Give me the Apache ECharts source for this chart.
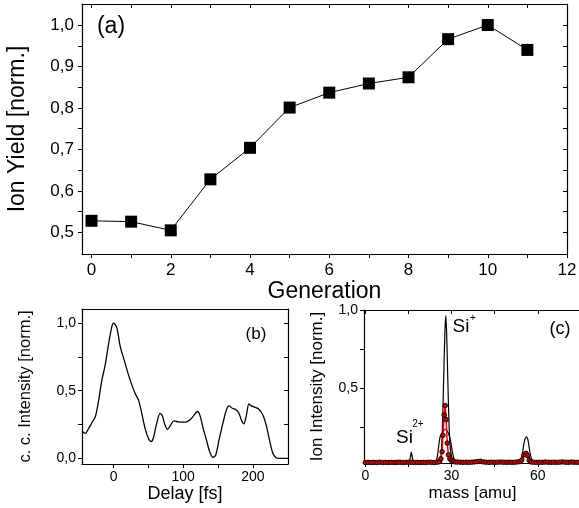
<!DOCTYPE html>
<html lang="en">
<head>
<meta charset="UTF-8">
<title>Ion yield vs generation</title>
<script src="https://cdn.jsdelivr.net/npm/echarts@6/dist/echarts.min.js"></script>
<style>
  html, body { margin: 0; padding: 0; background: #fff; }
  #main { width: 579px; height: 508px; }
</style>
</head>
<body>
<div id="main"></div>
<script>
// (a) ion yield per generation
var generation = [0, 1, 2, 3, 4, 5, 6, 7, 8, 9, 10, 11];
var ionYield = [0.528, 0.526, 0.505, 0.628, 0.704, 0.801, 0.837, 0.859, 0.874, 0.966, 1.0, 0.94];
var genTicks = [0, 1, 2, 3, 4, 5, 6, 7, 8, 9, 10, 11, 12];
var genLabels = [0, 2, 4, 6, 8, 10, 12];
var yieldTicks = [0.5, 0.55, 0.6, 0.65, 0.7, 0.75, 0.8, 0.85, 0.9, 0.95, 1.0];
var yieldLabels = [0.5, 0.6, 0.7, 0.8, 0.9, 1.0];

// (b) cross-correlation trace
var delay = [-45, -40.5, -35.7, -31, -26, -21.4, -16.7, -12, -7, -2.4, 0, 4.8, 9.5, 15.2, 21.4,
  26.2, 31, 35.7, 40.5, 45.2, 50, 53.8, 57, 62, 66.7, 70, 73.8, 77.6, 82, 86.7,
  92.9, 102.4, 112, 116.7, 120.5, 123.8, 128.6, 133.3, 138, 142.9, 146.7, 151.4, 157, 162, 165.7,
  170.5, 176.2, 180, 183.8, 187, 190.5, 194.3, 197.6, 202.4, 208.6, 214.3, 219, 223.8, 228.6, 233.3,
  238, 250];
var ccIntensity = [0.198, 0.185, 0.222, 0.264, 0.31, 0.43, 0.58, 0.69, 0.85, 0.975, 1.0, 0.963, 0.827, 0.728, 0.617,
  0.543, 0.48, 0.432, 0.333, 0.222, 0.148, 0.123, 0.148, 0.26, 0.333, 0.314, 0.247, 0.215, 0.247, 0.277,
  0.269, 0.267, 0.296, 0.328, 0.346, 0.321, 0.222, 0.136, 0.049, 0.007, 0.025, 0.136, 0.26, 0.358, 0.388,
  0.37, 0.358, 0.333, 0.279, 0.254, 0.314, 0.402, 0.388, 0.378, 0.363, 0.321, 0.247, 0.136, 0.037, 0.005,
  0, 0];
var delayTicks = [0, 50, 100, 150, 200];
var delayLabels = [0, 100, 200];
var ccTicks = [0, 0.25, 0.5, 0.75, 1.0];
var ccLabels = [0, 0.5, 1.0];

// (c) mass spectra
var tallMass = [-0.4, 6, 12, 14.9, 15.5, 16, 16.5, 17.1, 22, 25.8, 26.4, 26.9, 27.3, 27.7, 28,
  28.3, 28.7, 29.1, 29.6, 30.2, 31, 33, 40, 47, 53.6, 54.5, 55.1, 55.6, 56, 56.5,
  57, 57.6, 58.4, 64, 70, 75];
var tallInt = [0.028, 0.028, 0.028, 0.028, 0.045, 0.092, 0.045, 0.028, 0.028, 0.035, 0.08, 0.3, 0.6, 0.87, 0.965,
  0.84, 0.55, 0.28, 0.11, 0.05, 0.034, 0.03, 0.034, 0.03, 0.03, 0.07, 0.14, 0.18, 0.19, 0.175,
  0.12, 0.06, 0.032, 0.028, 0.028, 0.028];
var broadMass = [-0.4, 10, 20, 24.3, 25, 25.5, 26, 26.6, 27.3, 28, 28.7, 29.3, 29.7, 30.3, 31,
  32, 40, 50, 53.8, 54.6, 55.3, 55.9, 56.5, 57.2, 58.2, 66, 75];
var broadInt = [0.026, 0.026, 0.026, 0.03, 0.06, 0.13, 0.19, 0.21, 0.23, 0.24, 0.22, 0.19, 0.16, 0.09, 0.045,
  0.03, 0.028, 0.028, 0.03, 0.05, 0.075, 0.088, 0.075, 0.05, 0.03, 0.026, 0.026];
var redMass = [0, 1, 2, 3, 4, 5, 6, 7, 8, 9, 10, 11, 12, 13, 14, 15, 16, 17, 18, 19, 20, 21, 22, 23, 24, 25,
  25.8, 26.3, 26.7, 27.0, 27.4, 27.8, 28.1, 28.5, 28.9, 29.4, 29.9, 30.5, 31.2,
  32, 33, 34, 35, 36, 37, 38, 39, 40, 41, 42, 43, 44, 45, 46, 47, 48, 49, 50, 51, 52, 53,
  53.8, 54.4, 55.2, 55.9, 56.4, 57, 57.7,
  58.5, 59.5, 60.5, 61.5, 62.5, 63.5, 64.5, 65.5, 66.5, 67.5, 68.5, 69.5, 70.5, 71.5, 72.5, 73.5, 74.5];
var redInt = [0.026, 0.027, 0.026, 0.027, 0.026, 0.028, 0.026, 0.027, 0.026, 0.027, 0.026, 0.027, 0.028,
  0.026, 0.027, 0.028, 0.027, 0.026, 0.027, 0.026, 0.027, 0.026, 0.028, 0.027, 0.026, 0.028,
  0.032, 0.05, 0.095, 0.2, 0.33, 0.39, 0.3, 0.15, 0.075, 0.05, 0.04, 0.035, 0.03,
  0.029, 0.028, 0.027, 0.028, 0.027, 0.028, 0.03, 0.032, 0.034, 0.03, 0.028, 0.027, 0.028, 0.027, 0.028,
  0.029, 0.028, 0.027, 0.028, 0.027, 0.028, 0.03,
  0.032, 0.042, 0.075, 0.085, 0.07, 0.04, 0.03,
  0.028, 0.027, 0.028, 0.027, 0.029, 0.028, 0.027, 0.028, 0.027, 0.028, 0.03, 0.028, 0.027, 0.029,
  0.028, 0.027, 0.028];
var massTicks = [0, 15, 30, 45, 60, 75];
var massLabels = [0, 30, 60];
var specTicks = [0.25, 0.5, 0.75, 1.0];
var specLabels = [0.5, 1.0];

var FONT = 'Liberation Sans, Arial, sans-serif';

function comma(v) {
  return v.toFixed(1).replace('.', ',');
}

function pairs(xs, ys) {
  return xs.map(function (x, i) { return [x, ys[i]]; });
}

// one value axis, styled like the Origin plot
function axis(o) {
  return {
    type: 'value',
    gridIndex: o.grid,
    position: o.position,
    min: o.min,
    max: o.max,
    name: o.name || '',
    nameLocation: 'middle',
    nameGap: o.nameGap || 0,
    nameTextStyle: { fontFamily: FONT, fontSize: o.nameSize || 16, color: '#000' },
    axisLine: { show: true, onZero: false, lineStyle: { color: '#000', width: 1.2 } },
    axisTick: { show: true, inside: !!o.inside, length: 4, customValues: o.ticks,
      lineStyle: { color: '#000', width: 1 } },
    axisLabel: { show: !!o.labels, customValues: o.labels, margin: o.margin || 6,
      fontFamily: FONT, fontSize: o.fontSize || 14, color: '#000', formatter: o.formatter },
    splitLine: { show: false }
  };
}

var chart = echarts.init(document.getElementById('main'));

var option = {
  animation: false,
  backgroundColor: '#fff',
  grid: [
    { left: 82, top: 4, width: 485, height: 250, outerBoundsMode: 'none' },
    { left: 82, top: 309, width: 206, height: 155, outerBoundsMode: 'none' },
    { left: 364, top: 310, width: 217, height: 153, outerBoundsMode: 'none' }
  ],
  xAxis: [
    axis({ grid: 0, position: 'bottom', min: -0.24, max: 12, ticks: genTicks, labels: genLabels,
      fontSize: 17, margin: 8, name: 'Generation', nameGap: 22, nameSize: 23 }),
    axis({ grid: 0, position: 'top', min: -0.24, max: 12, ticks: genTicks, inside: true }),
    axis({ grid: 1, position: 'bottom', min: -45.3, max: 250.4, ticks: delayTicks, labels: delayLabels,
      margin: 6, name: 'Delay [fs]', nameGap: 19, nameSize: 18 }),
    axis({ grid: 1, position: 'top', min: -45.3, max: 250.4, ticks: [] }),
    axis({ grid: 2, position: 'bottom', min: -0.45, max: 75, ticks: massTicks, labels: massLabels,
      margin: 6, name: 'mass [amu]', nameGap: 22, nameSize: 17 }),
    axis({ grid: 2, position: 'top', min: -0.45, max: 75, ticks: massTicks, inside: true })
  ],
  yAxis: [
    axis({ grid: 0, position: 'left', min: 0.448, max: 1.0507, ticks: yieldTicks, labels: yieldLabels,
      fontSize: 17, margin: 8, formatter: comma, name: 'Ion Yield [norm.]', nameGap: 53, nameSize: 23 }),
    axis({ grid: 0, position: 'right', min: 0.448, max: 1.0507, ticks: yieldTicks, inside: true }),
    axis({ grid: 1, position: 'left', min: -0.042, max: 1.104, ticks: ccTicks, labels: ccLabels,
      margin: 6, formatter: comma, name: 'c. c. Intensity [norm.]', nameGap: 48, nameSize: 16.5 }),
    axis({ grid: 1, position: 'right', min: -0.042, max: 1.104, ticks: ccTicks, inside: true }),
    axis({ grid: 2, position: 'left', min: 0.023, max: 1.0, ticks: specTicks, labels: specLabels,
      margin: 6, formatter: comma, name: 'Ion Intensity [norm.]', nameGap: 38, nameSize: 17 })
  ],
  series: [
    {
      type: 'line', xAxisIndex: 0, yAxisIndex: 0,
      data: pairs(generation, ionYield),
      symbol: 'rect', symbolSize: 12,
      lineStyle: { color: '#000', width: 1 },
      itemStyle: { color: '#000' }
    },
    {
      type: 'line', xAxisIndex: 2, yAxisIndex: 2,
      data: pairs(delay, ccIntensity),
      smooth: 0.3, showSymbol: false,
      lineStyle: { color: '#000', width: 1.3 }
    },
    {
      type: 'line', xAxisIndex: 4, yAxisIndex: 4,
      data: pairs(broadMass, broadInt),
      smooth: 0.2, showSymbol: false,
      lineStyle: { color: '#000', width: 1.2 }
    },
    {
      type: 'line', xAxisIndex: 4, yAxisIndex: 4,
      data: pairs(tallMass, tallInt),
      smooth: 0.2, showSymbol: false,
      lineStyle: { color: '#000', width: 1.2 }
    },
    {
      type: 'line', xAxisIndex: 4, yAxisIndex: 4,
      data: pairs(redMass, redInt),
      symbol: 'circle', symbolSize: 4.5, showAllSymbol: true,
      lineStyle: { color: '#ff0000', width: 1.5 },
      itemStyle: { color: '#d00000', borderColor: '#1a0000', borderWidth: 1 }
    }
  ],
  graphic: { elements: [
    { type: 'text', x: 111, y: 27, style: { text: '(a)', fontFamily: FONT, fontSize: 23, fill: '#000',
      textAlign: 'center', textVerticalAlign: 'middle' } },
    { type: 'text', x: 256, y: 334, style: { text: '(b)', fontFamily: FONT, fontSize: 17, fill: '#000',
      textAlign: 'center', textVerticalAlign: 'middle' } },
    { type: 'text', x: 560, y: 329, style: { text: '(c)', fontFamily: FONT, fontSize: 18, fill: '#000',
      textAlign: 'center', textVerticalAlign: 'middle' } },
    { type: 'text', x: 461, y: 327, style: { text: 'Si', fontFamily: FONT, fontSize: 19, fill: '#000',
      textAlign: 'center', textVerticalAlign: 'middle' } },
    { type: 'text', x: 473, y: 318, style: { text: '+', fontFamily: FONT, fontSize: 10, fill: '#000',
      textAlign: 'center', textVerticalAlign: 'middle' } },
    { type: 'text', x: 404.5, y: 438, style: { text: 'Si', fontFamily: FONT, fontSize: 19, fill: '#000',
      textAlign: 'center', textVerticalAlign: 'middle' } },
    { type: 'text', x: 418, y: 424, style: { text: '2+', fontFamily: FONT, fontSize: 10, fill: '#000',
      textAlign: 'center', textVerticalAlign: 'middle' } }
  ] }
};

chart.setOption(option);
</script>
</body>
</html>
